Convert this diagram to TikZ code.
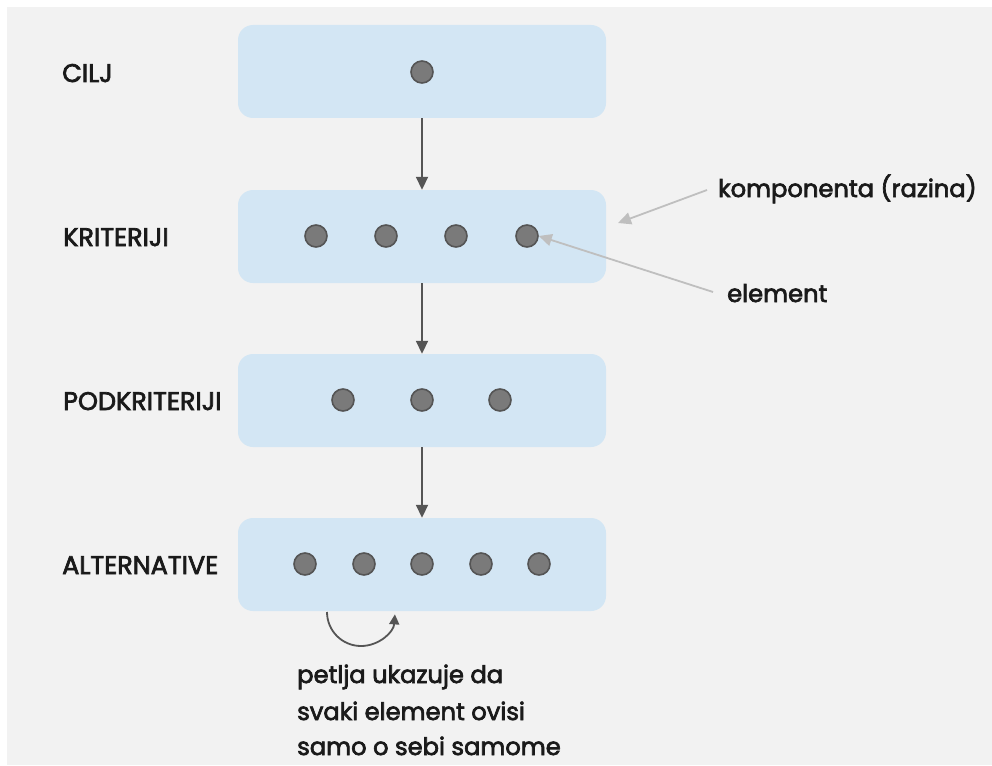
\documentclass[tikz,border=0pt]{standalone}
\usepackage{fontspec}
\setmainfont{Poppins}[FakeBold=2.8]
\newfontfamily\capsfont{Poppins}[FakeBold=2.8]
\usetikzlibrary{arrows.meta}
\definecolor{pagegray}{HTML}{F2F2F2}
\definecolor{boxblue}{HTML}{D3E6F4}
\definecolor{dotfill}{HTML}{7A7A7A}
\definecolor{dotline}{HTML}{555555}
\definecolor{linkdark}{HTML}{555555}
\definecolor{notegray}{HTML}{BFBFBF}
\definecolor{ink}{HTML}{1A1A1A}
\tikzset{
  level/.style={fill=boxblue, rounded corners=15pt, minimum width=368pt, minimum height=93pt, inner sep=0pt},
  elem/.style={circle, fill=dotfill, draw=dotline, line width=1.6pt, minimum size=22pt, inner sep=0pt},
  lbl/.style={anchor=base west, text=ink, font=\capsfont\fontsize{25.5}{28}\selectfont, inner sep=0pt},
  flow/.style={draw=linkdark, line width=1.8pt, -{Triangle[length=13pt,width=12pt]}},
  note/.style={draw=notegray, line width=1.8pt, -{Triangle[length=13pt,width=12pt]}},
  notetext/.style={anchor=base west, text=ink, font=\fontsize{24.2}{27}\selectfont, inner sep=0pt},
}
\begin{document}
\begin{tikzpicture}[x=1pt, y=-1pt]
  % page and backdrop
  \useasboundingbox (0,0) rectangle (992,765);
  \fill[white] (0,0) rectangle (992,765);
  \fill[pagegray] (7,7) rectangle (992,765);

  % levels of the hierarchy
  \node[level] (goal) at (422,71.5) {};
  \node[level] (crit) at (422,236.5) {};
  \node[level] (sub)  at (422,400.5) {};
  \node[level] (alt)  at (422,564.5) {};

  % level names
  \node[lbl] (lgoal) at (62,82)  {CILJ};
  \node[lbl] (lcrit) at (63,246) {KRITERIJI};
  \node[lbl] (lsub)  at (63,410) {PODKRITERIJI};
  \node[lbl] (lalt)  at (62,574) {ALTERNATIVE};

  % elements
  \node[elem] (g1) at (422,72) {};
  \node[elem] (c1) at (316,236) {};
  \node[elem] (c2) at (386,236) {};
  \node[elem] (c3) at (456,236) {};
  \node[elem] (c4) at (527,236) {};
  \node[elem] (s1) at (343,400) {};
  \node[elem] (s2) at (422,400) {};
  \node[elem] (s3) at (500,400) {};
  \node[elem] (a1) at (305,564) {};
  \node[elem] (a2) at (364,564) {};
  \node[elem] (a3) at (422,564) {};
  \node[elem] (a4) at (481,564) {};
  \node[elem] (a5) at (539,564) {};

  % top-down links between levels
  \draw[flow] (goal.south) -- (crit.north);
  \draw[flow] (crit.south) -- (sub.north);
  \draw[flow] (sub.south) -- (alt.north);

  % annotations
  \node[notetext] (tcomp) at (718,197) {komponenta (razina)};
  \node[notetext] (telem) at (727,302) {element};
  \coordinate (compstart) at (707,190);
  \coordinate (compend) at (618,223);
  \coordinate (elemstart) at (713,292);
  \draw[note] (compstart) -- (compend);
  \draw[note] (elemstart) -- (c4.east);

  % self-loop below the alternatives
  \coordinate (loopstart) at (327,612);
  \draw[draw=linkdark, line width=1.8pt, -{Triangle[length=10pt,width=10pt]}]
    (loopstart) arc[start angle=180, end angle=4, radius=34];

  \node[notetext] (tloop1) at (297,683) {petlja ukazuje da};
  \node[notetext] (tloop2) at (297,720) {svaki element ovisi};
  \node[notetext] (tloop3) at (297,755) {samo o sebi samome};
\end{tikzpicture}
\end{document}
